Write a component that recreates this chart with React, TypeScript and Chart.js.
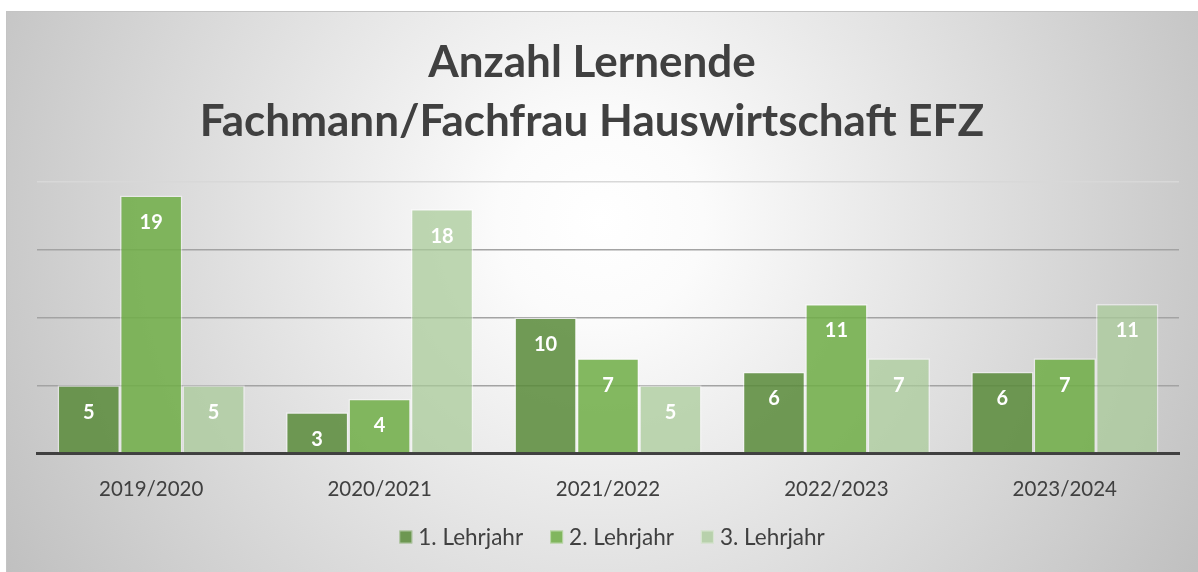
import React, { useEffect, useRef } from "react";
import { Chart, registerables } from "chart.js";

Chart.register(...registerables);

const categories = ["2019/2020", "2020/2021", "2021/2022", "2022/2023", "2023/2024"];
const seriesNames = ["1. Lehrjahr", "2. Lehrjahr", "3. Lehrjahr"];
const lehrjahr1 = [5, 3, 10, 6, 6];
const lehrjahr2 = [19, 4, 7, 11, 7];
const lehrjahr3 = [5, 18, 5, 7, 11];
const titleLines = ["Anzahl Lernende", "Fachmann/Fachfrau Hauswirtschaft EFZ"];

const FONT = "Lato, Carlito, Calibri, 'Open Sans', sans-serif";
const COLORS = [
  "rgba(90,138,58,0.86)",
  "rgba(112,173,71,0.86)",
  "rgba(168,203,152,0.74)",
];

const bgPlugin = {
  id: "bgPlugin",
  beforeDraw(chart: any) {
    const { ctx, width, height } = chart;
    ctx.save();
    ctx.fillStyle = "#ffffff";
    ctx.fillRect(0, 0, width, height);
    const g = ctx.createRadialGradient(600, 220, 0, 600, 220, 690);
    g.addColorStop(0, "#ffffff");
    g.addColorStop(0.15, "#fbfbfb");
    g.addColorStop(1, "#c0c0c0");
    ctx.fillStyle = g;
    ctx.fillRect(6, 11, width - 6, height - 11);
    ctx.strokeStyle = "#c4c4c4";
    ctx.lineWidth = 1;
    ctx.strokeRect(6.5, 11.5, width - 6, height - 11);
    ctx.restore();
  },
};

const titlePlugin = {
  id: "customTitle",
  afterDraw(chart: any) {
    const { ctx } = chart;
    ctx.save();
    ctx.fillStyle = "#404040";
    ctx.font = `bold 44px ${FONT}`;
    ctx.textAlign = "center";
    ctx.textBaseline = "middle";
    titleLines.forEach((t, i) => ctx.fillText(t, 592, 63 + i * 59));
    ctx.restore();
  },
};

const labelPlugin = {
  id: "labelPlugin",
  afterDatasetsDraw(chart: any) {
    const { ctx } = chart;
    ctx.save();
    ctx.fillStyle = "#ffffff";
    ctx.font = `bold 20px ${FONT}`;
    ctx.textAlign = "center";
    ctx.textBaseline = "middle";
    chart.data.datasets.forEach((ds: any, i: number) => {
      const meta = chart.getDatasetMeta(i);
      meta.data.forEach((bar: any, j: number) => {
        ctx.fillText(String(ds.data[j]), bar.x, bar.y + 27);
      });
    });
    ctx.restore();
  },
};

const legendPlugin = {
  id: "customLegend",
  afterDraw(chart: any) {
    const { ctx } = chart;
    ctx.save();
    ctx.font = `22.5px ${FONT}`;
    ctx.textBaseline = "middle";
    ctx.textAlign = "left";
    const box = 13;
    const gapText = 6;
    const spacing = 27;
    const ds = chart.data.datasets;
    const widths = ds.map((d: any) => box + gapText + ctx.measureText(d.label).width);
    const total = widths.reduce((a: number, b: number) => a + b, 0) + spacing * (ds.length - 1);
    let x = 612 - total / 2;
    const y = 537;
    ds.forEach((d: any, i: number) => {
      ctx.fillStyle = d.backgroundColor;
      ctx.fillRect(x, y - box / 2, box, box);
      ctx.strokeStyle = "rgba(255,255,255,0.45)";
      ctx.lineWidth = 1;
      ctx.strokeRect(x + 0.5, y - box / 2 + 0.5, box - 1, box - 1);
      ctx.fillStyle = "#404040";
      ctx.fillText(d.label, x + box + gapText, y + 1);
      x += widths[i] + spacing;
    });
    ctx.restore();
  },
};

export default function App() {
  const ref = useRef<HTMLCanvasElement | null>(null);
  useEffect(() => {
    if (!ref.current) return;
    const data = [lehrjahr1, lehrjahr2, lehrjahr3];
    const chart = new Chart(ref.current, {
      type: "bar",
      data: {
        labels: categories,
        datasets: seriesNames.map((name, i) => ({
          label: name,
          data: data[i],
          backgroundColor: COLORS[i],
          borderColor: "rgba(255,255,255,0.45)",
          borderWidth: 1.5,
          categoryPercentage: 0.82,
          barPercentage: 1,
        })),
      },
      options: {
        animation: false,
        responsive: false,
        maintainAspectRatio: false,
        layout: { padding: { left: 37, right: 19, top: 182, bottom: 0 } },
        plugins: {
          title: { display: false },
          legend: { display: false },
          tooltip: { enabled: false },
        },
        scales: {
          x: {
            grid: { display: false, drawTicks: false },
            border: { display: true, color: "#404040", width: 3 },
            ticks: { color: "#404040", font: { family: FONT, size: 20.5 }, padding: 24 },
            afterFit: (axis: any) => {
              axis.height = 119;
            },
          },
          y: {
            min: 0,
            max: 20,
            ticks: { display: false, stepSize: 5 },
            border: { display: false },
            grid: {
              drawTicks: false,
              lineWidth: 1.5,
              color: (c: any) => (c.tick && c.tick.value === 20 ? "#d8d8d8" : "#a3a3a3"),
            },
          },
        },
      },
      plugins: [bgPlugin, labelPlugin, titlePlugin, legendPlugin],
    });
    return () => chart.destroy();
  }, []);
  return (
    <div style={{ position: "fixed", left: 0, top: 0, width: 1198, height: 572 }}>
      <canvas ref={ref} width={1198} height={572} style={{ width: 1198, height: 572 }} />
    </div>
  );
}
